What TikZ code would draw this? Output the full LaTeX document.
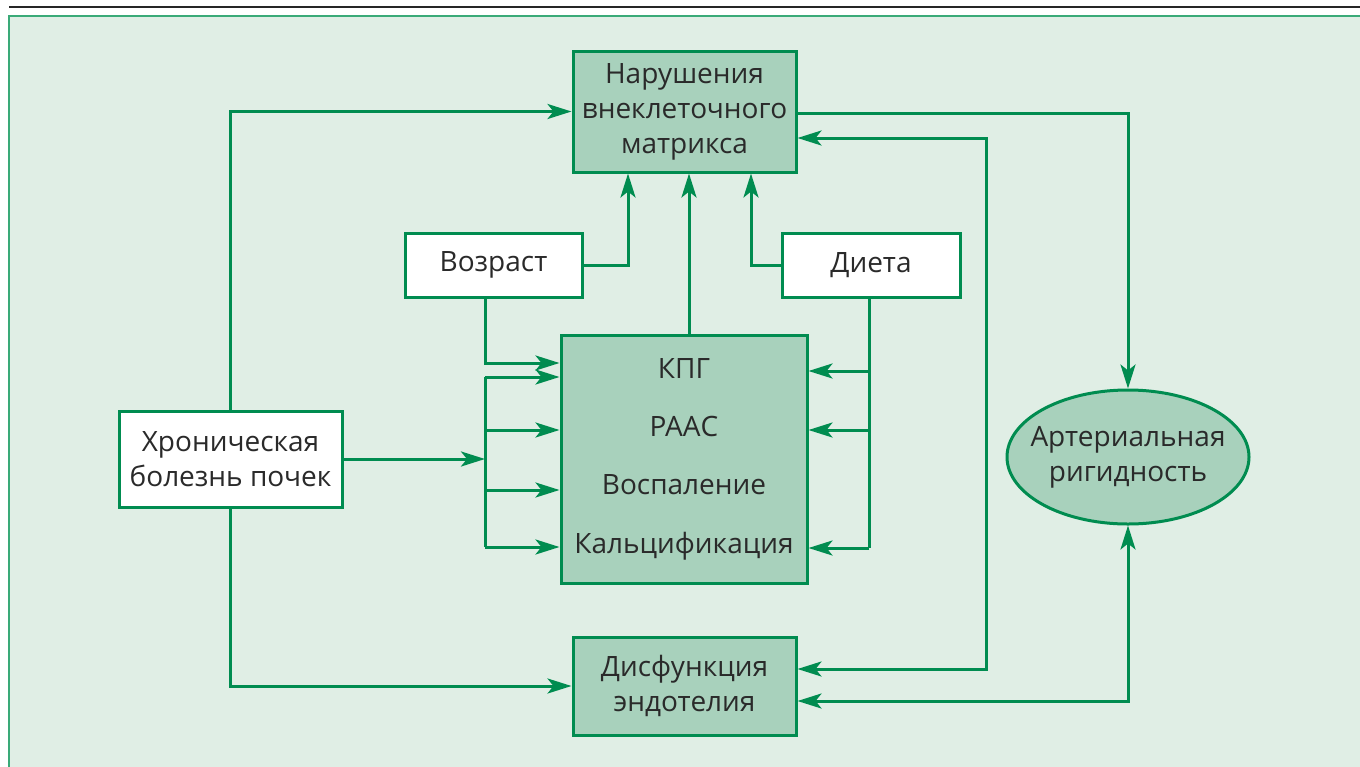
\documentclass[tikz,border=0pt]{standalone}
\usepackage{fontspec}
\setmainfont{Open Sans}
\usetikzlibrary{arrows.meta,shapes.geometric}

\definecolor{lineGreen}{HTML}{008C50}
\definecolor{panelGreen}{HTML}{E0EEE5}
\definecolor{panelEdge}{HTML}{3AAA78}
\definecolor{boxGreen}{HTML}{A8D1BC}
\definecolor{textGray}{HTML}{2A2A2A}

\tikzset{every node/.style={draw=lineGreen, line width=3pt, inner sep=0pt, text=textGray,
    align=center, font=\fontsize{28}{35}\selectfont}}
\tikzset{greenbox/.style={rectangle, fill=boxGreen}}
\tikzset{whitebox/.style={rectangle, fill=white}}
\tikzset{link/.style={draw=lineGreen, line width=3pt}}
\tikzset{arr/.style={link, -{Stealth[length=24pt,width=15pt,inset=6pt]}}}
\tikzset{darr/.style={link, {Stealth[length=24pt,width=15pt,inset=6pt]}-{Stealth[length=24pt,width=15pt,inset=6pt]}}}

\begin{document}
\begin{tikzpicture}[x=1pt,y=-1pt]
			\useasboundingbox (0,0) rectangle (1360,766);
			
			% Background panel and top rule
			\fill[panelGreen] (9,16) rectangle (1365,770);
			\draw[panelEdge, line width=2pt] (1365,16) -- (9,16) -- (9,770);
			\draw[black!85, line width=2pt] (9,7) -- (1360,7);
			
			% Define nodes
			\node[greenbox, minimum width=223pt, minimum height=121pt] (ecm) at (684.5,111.5) {Нарушения\\внеклеточного\\матрикса};
			\node[whitebox, minimum width=177pt, minimum height=64pt] (age) at (493.5,265) {Возраст};
			\node[whitebox, minimum width=178pt, minimum height=64pt] (diet) at (871,265) {Диета};
			\node[greenbox, minimum width=246pt, minimum height=248pt,
				font=\fontsize{28}{58.3}\selectfont] (mech) at (684,459) {КПГ\\РААС\\Воспаление\\Кальцификация};
			\node[whitebox, minimum width=223pt, minimum height=96pt] (ckd) at (230.5,459) {Хроническая\\болезнь почек};
			\node[ellipse, fill=boxGreen, inner xsep=-30pt, inner ysep=-10pt,
				minimum width=242pt, minimum height=134pt] (art) at (1128,457) {Артериальная\\ригидность};
			\node[greenbox, minimum width=223pt, minimum height=98pt] (endo) at (684.5,686) {Дисфункция\\эндотелия};
			
			% Define bus coordinates
			\coordinate (busL) at (485,459);
			\coordinate (busR) at (869,459);
			\coordinate (busE) at (986,400);
			
			% CKD links
			\draw[arr] (ckd.north) |- (ecm.west);
			\draw[arr] (ckd.south) |- (endo.west);
			\draw[arr] (ckd.east) -- (busL);
			\draw[link] (busL |- 0,377) -- (busL |- 0,547);
			\foreach \y in {377,430,490,547} {
				\draw[arr] (busL |- 0,\y) -- (mech.west |- 0,\y);
			}
			
			% Age and diet links
			\draw[arr] (age.south -| busL) |- (mech.west |- 0,363);
			\draw[arr] (age.east) -| (628,0 |- ecm.south);
			\draw[arr] (mech.north -| 689,0) -- (689,0 |- ecm.south);
			\draw[arr] (diet.west) -| (751,0 |- ecm.south);
			\draw[link] (diet.south -| busR) -- (busR |- 0,548);
			\foreach \y in {371,430,548} {
				\draw[arr] (busR |- 0,\y) -- (mech.east |- 0,\y);
			}
			
			% Links to arterial stiffness
			\draw[arr] (ecm.east |- 0,113) -| (art.north);
			\draw[darr] (ecm.east |- 0,138) -| (busE) |- (endo.east |- 0,669);
			\draw[darr] (endo.east |- 0,701) -| (art.south);
		\end{tikzpicture}
\end{document}
